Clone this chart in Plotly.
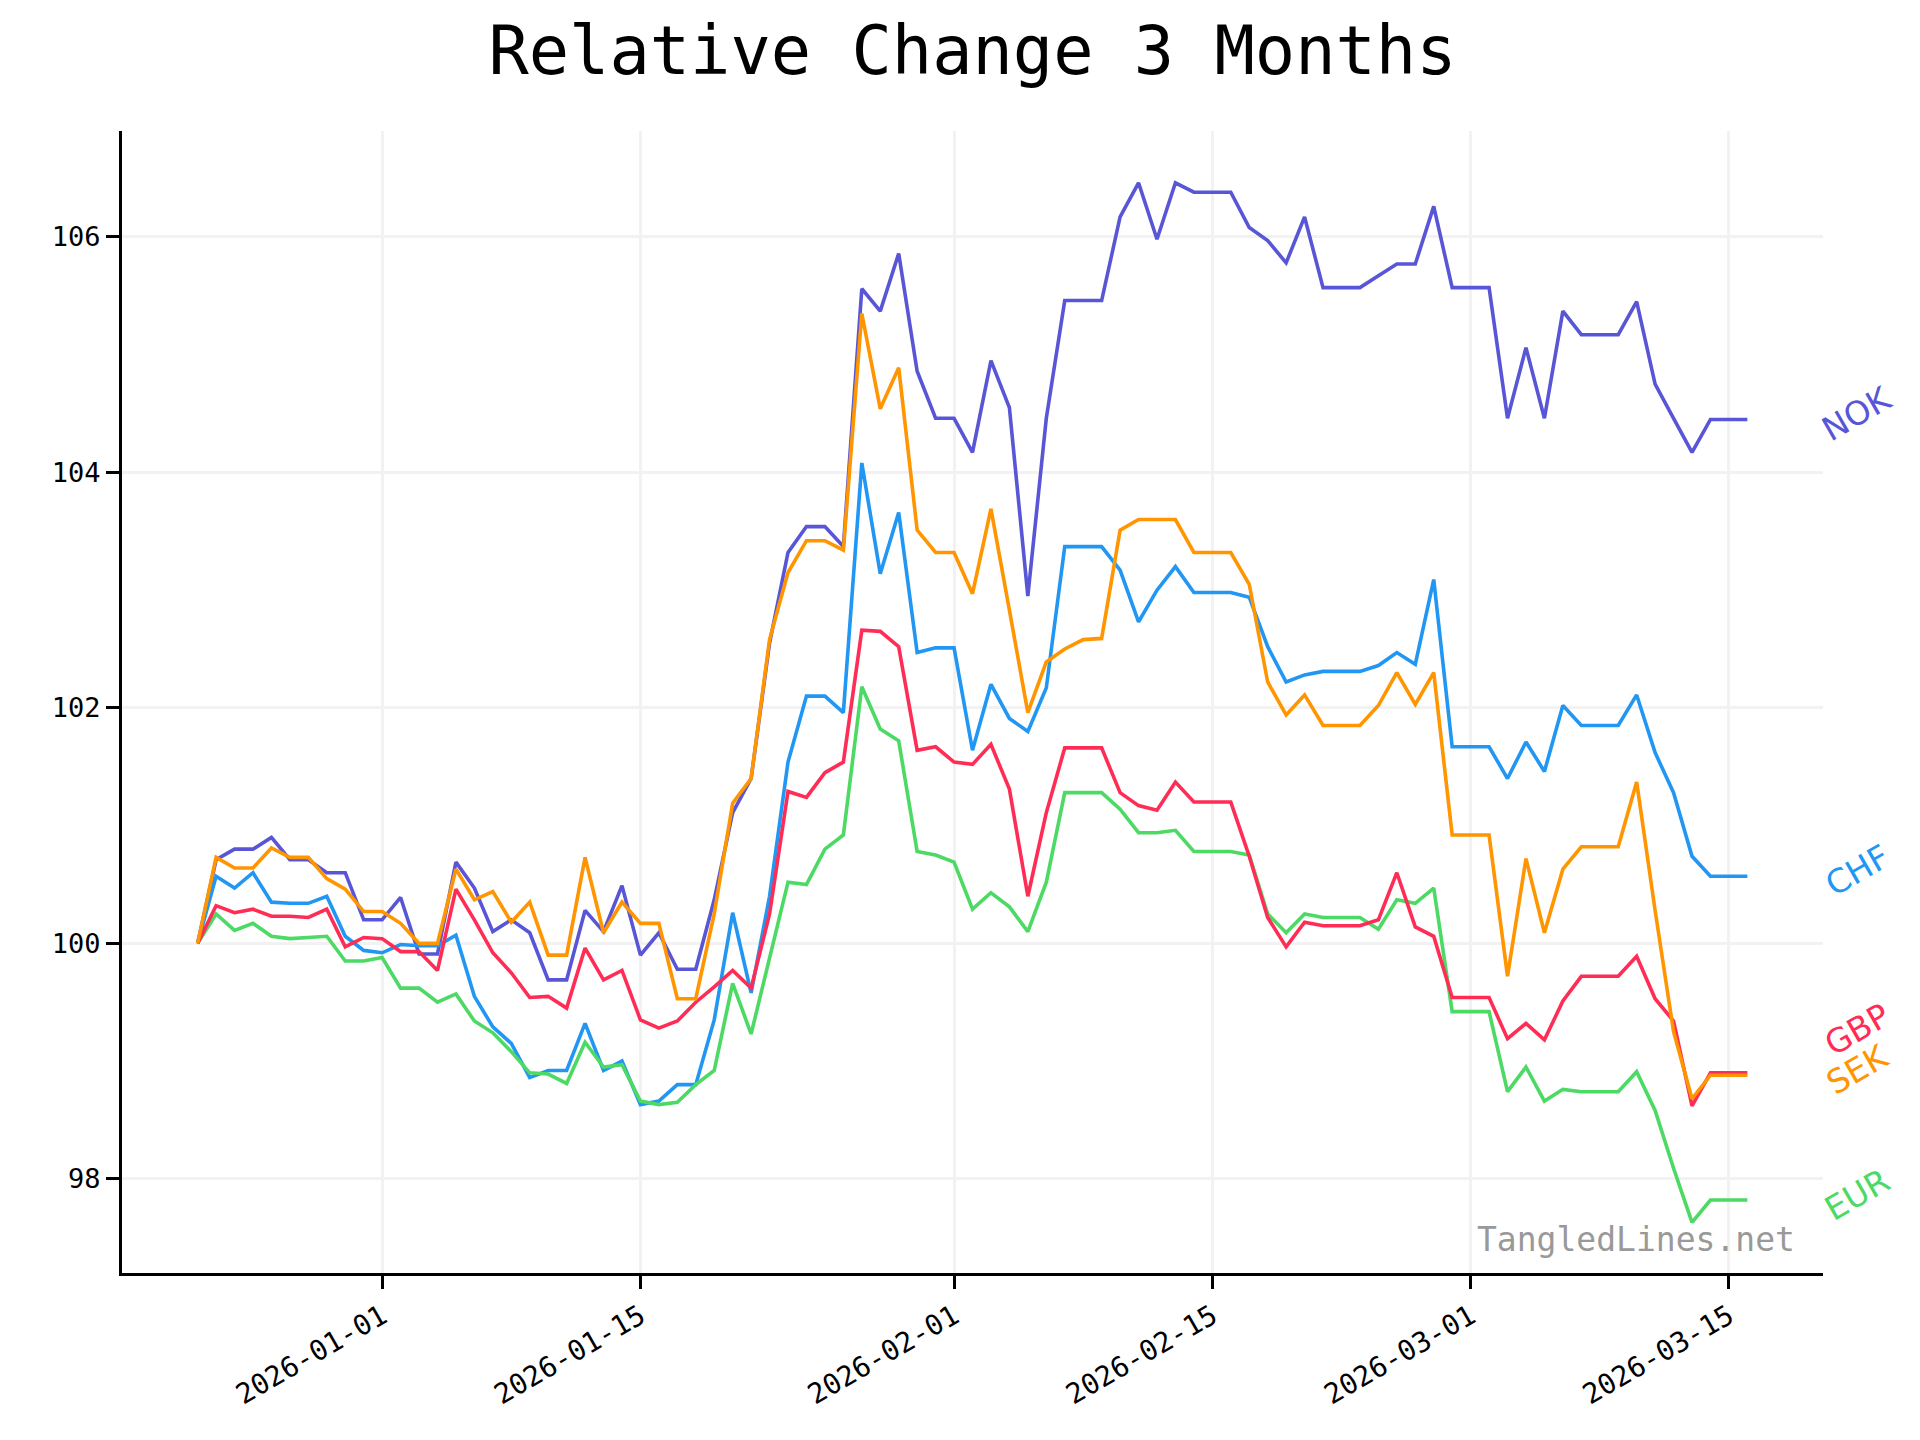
import pandas as pd
import plotly.graph_objects as go

# ---------------- data ----------------
start_date = "2025-12-22"
n_days = 85

nok = [100.00, 100.71, 100.80, 100.80, 100.90, 100.71, 100.71, 100.60, 100.60, 100.20,
       100.20, 100.39, 99.91, 99.91, 100.69, 100.47, 100.10, 100.20, 100.09, 99.69,
       99.69, 100.28, 100.10, 100.49, 99.90, 100.09, 99.78, 99.78, 100.37, 101.11,
       101.40, 102.55, 103.32, 103.54, 103.54, 103.37, 105.56, 105.37, 105.86, 104.86,
       104.46, 104.46, 104.17, 104.95, 104.55, 102.95, 104.46, 105.46, 105.46, 105.46,
       106.17, 106.46, 105.98, 106.46, 106.38, 106.38, 106.38, 106.08, 105.97, 105.78,
       106.17, 105.57, 105.57, 105.57, 105.67, 105.77, 105.77, 106.26, 105.57, 105.57,
       105.57, 104.46, 105.06, 104.46, 105.37, 105.17, 105.17, 105.17, 105.45, 104.75,
       104.46, 104.17, 104.45, 104.45, 104.45]

sek = [100.00, 100.73, 100.64, 100.64, 100.81, 100.73, 100.73, 100.55, 100.46, 100.27,
       100.27, 100.17, 100.00, 100.00, 100.63, 100.37, 100.44, 100.18, 100.35, 99.90,
       99.90, 100.73, 100.09, 100.35, 100.17, 100.17, 99.53, 99.53, 100.25, 101.19,
       101.40, 102.58, 103.15, 103.42, 103.42, 103.34, 105.35, 104.54, 104.89, 103.51,
       103.32, 103.32, 102.97, 103.69, 102.83, 101.96, 102.39, 102.50, 102.58, 102.59,
       103.51, 103.60, 103.60, 103.60, 103.32, 103.32, 103.32, 103.05, 102.22, 101.94,
       102.11, 101.85, 101.85, 101.85, 102.02, 102.30, 102.03, 102.30, 100.92, 100.92,
       100.92, 99.72, 100.72, 100.09, 100.63, 100.82, 100.82, 100.82, 101.37, 100.28,
       99.25, 98.68, 98.88, 98.88, 98.88]

chf = [100.00, 100.57, 100.47, 100.60, 100.35, 100.34, 100.34, 100.40, 100.06, 99.94,
       99.92, 99.99, 99.98, 99.98, 100.07, 99.55, 99.29, 99.15, 98.86, 98.92,
       98.92, 99.32, 98.92, 99.00, 98.63, 98.66, 98.80, 98.80, 99.35, 100.26,
       99.58, 100.40, 101.54, 102.10, 102.10, 101.96, 104.08, 103.14, 103.66, 102.47,
       102.51, 102.51, 101.64, 102.20, 101.91, 101.80, 102.17, 103.37, 103.37, 103.37,
       103.17, 102.73, 103.00, 103.20, 102.98, 102.98, 102.98, 102.94, 102.52, 102.22,
       102.28, 102.31, 102.31, 102.31, 102.36, 102.47, 102.37, 103.09, 101.67, 101.67,
       101.67, 101.40, 101.71, 101.46, 102.02, 101.85, 101.85, 101.85, 102.11, 101.62,
       101.28, 100.74, 100.57, 100.57, 100.57]

gbp = [100.00, 100.32, 100.26, 100.29, 100.23, 100.23, 100.22, 100.29, 99.97, 100.05,
       100.04, 99.93, 99.93, 99.77, 100.46, 100.20, 99.92, 99.75, 99.54, 99.55,
       99.45, 99.96, 99.69, 99.77, 99.35, 99.28, 99.34, 99.50, 99.63, 99.77,
       99.62, 100.25, 101.29, 101.24, 101.45, 101.54, 102.66, 102.65, 102.52, 101.64,
       101.67, 101.54, 101.52, 101.69, 101.31, 100.40, 101.11, 101.66, 101.66, 101.66,
       101.28, 101.17, 101.13, 101.37, 101.20, 101.20, 101.20, 100.74, 100.22, 99.97,
       100.18, 100.15, 100.15, 100.15, 100.20, 100.60, 100.14, 100.06, 99.54, 99.54,
       99.54, 99.19, 99.32, 99.18, 99.51, 99.72, 99.72, 99.72, 99.89, 99.53,
       99.34, 98.62, 98.90, 98.90, 98.90]

eur = [100.00, 100.25, 100.11, 100.17, 100.06, 100.04, 100.05, 100.06, 99.85, 99.85,
       99.88, 99.62, 99.62, 99.50, 99.57, 99.34, 99.24, 99.08, 98.90, 98.89,
       98.81, 99.16, 98.95, 98.97, 98.66, 98.63, 98.65, 98.80, 98.92, 99.66,
       99.23, 99.88, 100.52, 100.50, 100.80, 100.92, 102.18, 101.82, 101.72, 100.78,
       100.75, 100.69, 100.29, 100.43, 100.31, 100.10, 100.52, 101.28, 101.28, 101.28,
       101.14, 100.94, 100.94, 100.96, 100.78, 100.78, 100.78, 100.75, 100.25, 100.09,
       100.25, 100.22, 100.22, 100.22, 100.12, 100.37, 100.34, 100.47, 99.42, 99.42,
       99.42, 98.74, 98.95, 98.66, 98.76, 98.74, 98.74, 98.74, 98.91, 98.58,
       98.09, 97.63, 97.82, 97.82, 97.82]

series_names = ["NOK", "CHF", "EUR", "GBP", "SEK"]
series_values = {"NOK": nok, "CHF": chf, "EUR": eur, "GBP": gbp, "SEK": sek}
series_colors = {"NOK": "#5856D6", "CHF": "#2196F3", "EUR": "#4CD964",
                 "GBP": "#FF2D55", "SEK": "#FF9500"}

tick_dates = ["2026-01-01", "2026-01-15", "2026-02-01", "2026-02-15", "2026-03-01", "2026-03-15"]
y_ticks = [98, 100, 102, 104, 106]
title_text = "Relative Change 3 Months"
watermark = "TangledLines.net"

# ---------------- figure ----------------
dates = pd.date_range(start_date, periods=n_days, freq="D")
mono = "DejaVu Sans Mono"

fig = go.Figure()
for name in series_names:
    fig.add_trace(go.Scatter(
        x=dates, y=series_values[name], mode="lines", name=name,
        line=dict(color=series_colors[name], width=3.6),
        showlegend=False,
    ))

# end labels with simple de-overlap
finals = {n: series_values[n][-1] for n in series_names}
min_gap = 0.34
prev = None
label_y = {}
for n in sorted(series_names, key=lambda k: finals[k]):
    yv = finals[n]
    if prev is not None and yv < prev + min_gap:
        yv = prev + min_gap
    label_y[n] = yv
    prev = yv

for n in series_names:
    fig.add_annotation(
        x=1, xref="paper", xshift=34, y=label_y[n], yref="y", yshift=6,
        text=n, showarrow=False, textangle=-30,
        xanchor="center", yanchor="middle",
        font=dict(family="DejaVu Sans", size=33, color=series_colors[n]),
    )

fig.add_annotation(
    x=0.985, xref="paper", y=0.029, yref="paper",
    text=watermark, showarrow=False, xanchor="right", yanchor="middle",
    font=dict(family=mono, size=33, color="#999999"),
)

pad = pd.Timedelta(days=4.1)
fig.update_layout(
    width=1920, height=1440,
    paper_bgcolor="white", plot_bgcolor="white",
    margin=dict(l=114, r=105, t=123, b=175, autoexpand=False),
    title=dict(text=title_text, x=0.5, xref="paper", xanchor="center",
               y=1 - 43 / 1440, yref="container", yanchor="middle",
               font=dict(family=mono, size=67, color="black")),
    xaxis=dict(
        range=[dates[0] - pad, dates[-1] + pad],
        tickvals=pd.to_datetime(tick_dates), ticktext=tick_dates,
        tickangle=-30, tickfont=dict(family=mono, size=28, color="black"),
        showgrid=True, gridcolor="#f2f2f2", gridwidth=3,
        showline=True, linecolor="black", linewidth=3, mirror=False,
        ticks="outside", ticklen=13, tickwidth=3, tickcolor="black",
        zeroline=False, automargin=False,
    ),
    yaxis=dict(
        range=[97.2, 106.9], tickvals=y_ticks, ticktext=[str(v) for v in y_ticks],
        tickfont=dict(family=mono, size=27, color="black"),
        showgrid=True, gridcolor="#f2f2f2", gridwidth=3,
        showline=True, linecolor="black", linewidth=3, mirror=False,
        ticks="outside", ticklen=13, tickwidth=3, tickcolor="black",
        zeroline=False, automargin=False,
    ),
)

fig.write_html("out.html")
